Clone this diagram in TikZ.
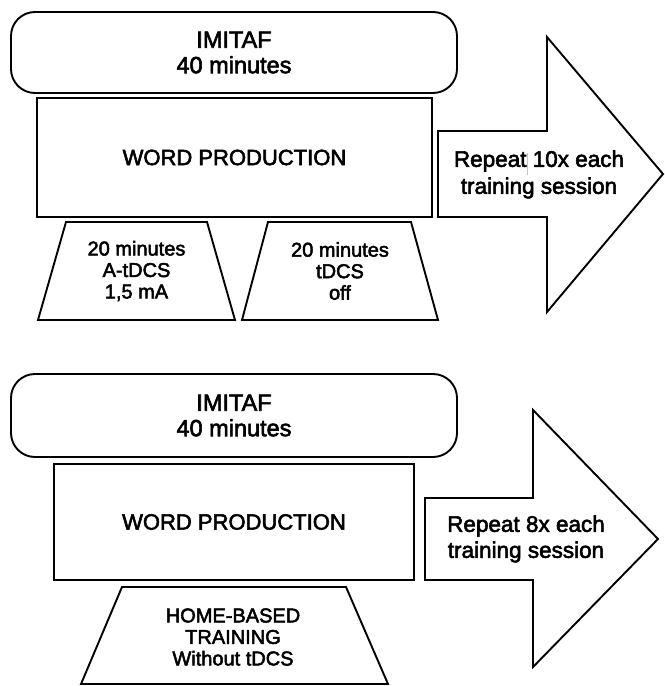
\documentclass[tikz,border=0pt]{standalone}
\usepackage{fontspec}
\setmainfont{Liberation Sans}[FakeBold=2.5]
\definecolor{cursorblue}{RGB}{170,200,240}
\begin{document}
\begin{tikzpicture}[x=1bp,y=-1bp,
  outline/.style={draw=black, line width=1.9bp, line join=miter, fill=white},
  big/.style={font=\fontsize{22bp}{26bp}\selectfont, align=center, inner sep=0pt},
  small/.style={font=\fontsize{20bp}{21.5bp}\selectfont, align=center, inner sep=0pt},
  roundbox/.style={outline, rounded corners=24bp, minimum width=446bp, inner sep=0pt},
  plainbox/.style={outline, inner sep=0pt},
]
\useasboundingbox (0,0) rectangle (665,686);
% ---------- upper diagram ----------
\node[roundbox, minimum height=81bp] (imitafA) at (234,52.5) {};
\node[big, font=\fontsize{23.5bp}{25.5bp}\selectfont] (imitafAtxt) at (imitafA.center) {IMITAF\\40 minutes};
\node[plainbox, minimum width=395bp, minimum height=119bp] (wordA) at (234.5,157.5) {};
\node[big] (wordAtxt) at (wordA.center) {WORD PRODUCTION};
\draw[outline] (66,222) -- (207,222) -- (235,320) -- (38,320) -- cycle;
\node[small] (trapA1) at (136.5,271) {20 minutes\\A-tDCS\\1,5 mA};
\draw[outline] (268,222) -- (411,222) -- (438,320) -- (242,320) -- cycle;
\node[small] (trapA2) at (340,271) {20 minutes\\tDCS\\off};
\draw[outline] (438,131) -- (547,131) -- (547,37) -- (663,174) -- (547,312) -- (547,217) -- (438,217) -- cycle;
\node[font=\fontsize{22.5bp}{27bp}\selectfont, align=center, inner sep=0pt] (arrowA) at (539,174.5) {Repeat 10x each\\training session};
\coordinate (curTop) at (527,153);
\coordinate (curBot) at (527,175);
\draw[cursorblue, line width=0.9bp] (curTop) -- (curBot);
% ---------- lower diagram ----------
\node[roundbox, minimum height=83bp] (imitafB) at (234,415.5) {};
\node[big, font=\fontsize{23.5bp}{25.5bp}\selectfont] (imitafBtxt) at (imitafB.center) {IMITAF\\40 minutes};
\node[plainbox, minimum width=360bp, minimum height=116bp] (wordB) at (234,522) {};
\node[big] (wordBtxt) at (wordB.center) {WORD PRODUCTION};
\draw[outline] (122,587) -- (346,587) -- (388,684) -- (81,684) -- cycle;
\node[small] (trapB) at (233,637) {HOME-BASED\\TRAINING\\Without tDCS};
\draw[outline] (425,498) -- (533,498) -- (533,410) -- (658,539) -- (533,667) -- (533,580) -- (425,580) -- cycle;
\node[font=\fontsize{22.5bp}{26bp}\selectfont, align=center, inner sep=0pt] (arrowB) at (526,539) {Repeat 8x each\\training session};
\end{tikzpicture}
\end{document}
